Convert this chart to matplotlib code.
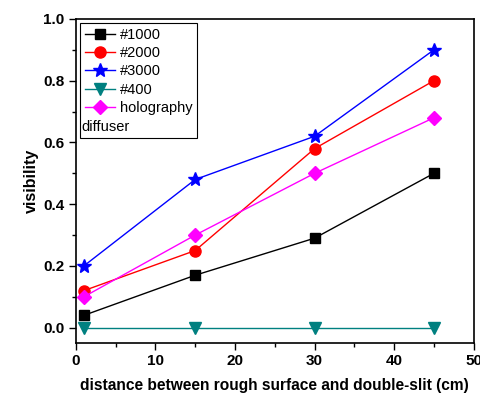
import numpy as np
import matplotlib
matplotlib.use("Agg")
import matplotlib.pyplot as plt
from matplotlib.lines import Line2D
from matplotlib.ticker import MultipleLocator

plt.rcParams['font.family'] = ['Liberation Sans', 'DejaVu Sans']

distance = [1, 15, 30, 45]
v1000 = [0.04, 0.17, 0.29, 0.50]
v2000 = [0.12, 0.25, 0.58, 0.80]
v3000 = [0.20, 0.48, 0.62, 0.90]
v400 = [0.0, 0.0, 0.0, 0.0]
vholo = [0.10, 0.30, 0.50, 0.68]

fig = plt.figure(figsize=(4.8, 3.94), dpi=100)
ax = fig.add_axes([0.158, 0.129, 0.829, 0.823])

ax.plot(distance, v1000, color='black', marker='s', ms=7, lw=1, label='#1000')
ax.plot(distance, v2000, color='red', marker='o', ms=8, lw=1, label='#2000')
ax.plot(distance, v3000, color='blue', marker='*', ms=10, lw=1, label='#3000')
ax.plot(distance, v400, color='#008080', marker='v', ms=8, lw=1, label='#400')
ax.plot(distance, vholo, color='magenta', marker='D', ms=7, lw=1, label='holography')

ax.set_xlim(0, 50)
ax.set_ylim(-0.05, 1.0)
ax.xaxis.set_major_locator(MultipleLocator(10))
ax.xaxis.set_minor_locator(MultipleLocator(5))
ax.yaxis.set_major_locator(MultipleLocator(0.2))
ax.yaxis.set_minor_locator(MultipleLocator(0.1))
ax.tick_params(which='both', direction='out', top=False, right=False, width=1)
ax.tick_params(which='major', length=5, labelsize=11, pad=3)
ax.tick_params(which='minor', length=3)
for lab in ax.get_xticklabels() + ax.get_yticklabels():
    lab.set_fontweight('bold')
for s in ax.spines.values():
    s.set_linewidth(1.2)

ax.set_xlabel('distance between rough surface and double-slit (cm)', fontweight='bold',
              fontsize=11.2, labelpad=7)
ax.set_ylabel('visibility', fontweight='bold', fontsize=11.5, labelpad=3)

handles, labels = ax.get_legend_handles_labels()
handles.append(Line2D([], [], color='none'))
labels.append('diffuser')
leg = ax.legend(handles, labels, loc='upper left', fontsize=10.5, fancybox=False,
                edgecolor='black', framealpha=1, handlelength=2.1, handletextpad=0.3,
                borderpad=0.3, labelspacing=0.3, borderaxespad=0.3)
leg.get_frame().set_linewidth(0.8)
leg.get_texts()[-1].set_position((-38, 0))

fig.savefig('out.png', dpi=100)
